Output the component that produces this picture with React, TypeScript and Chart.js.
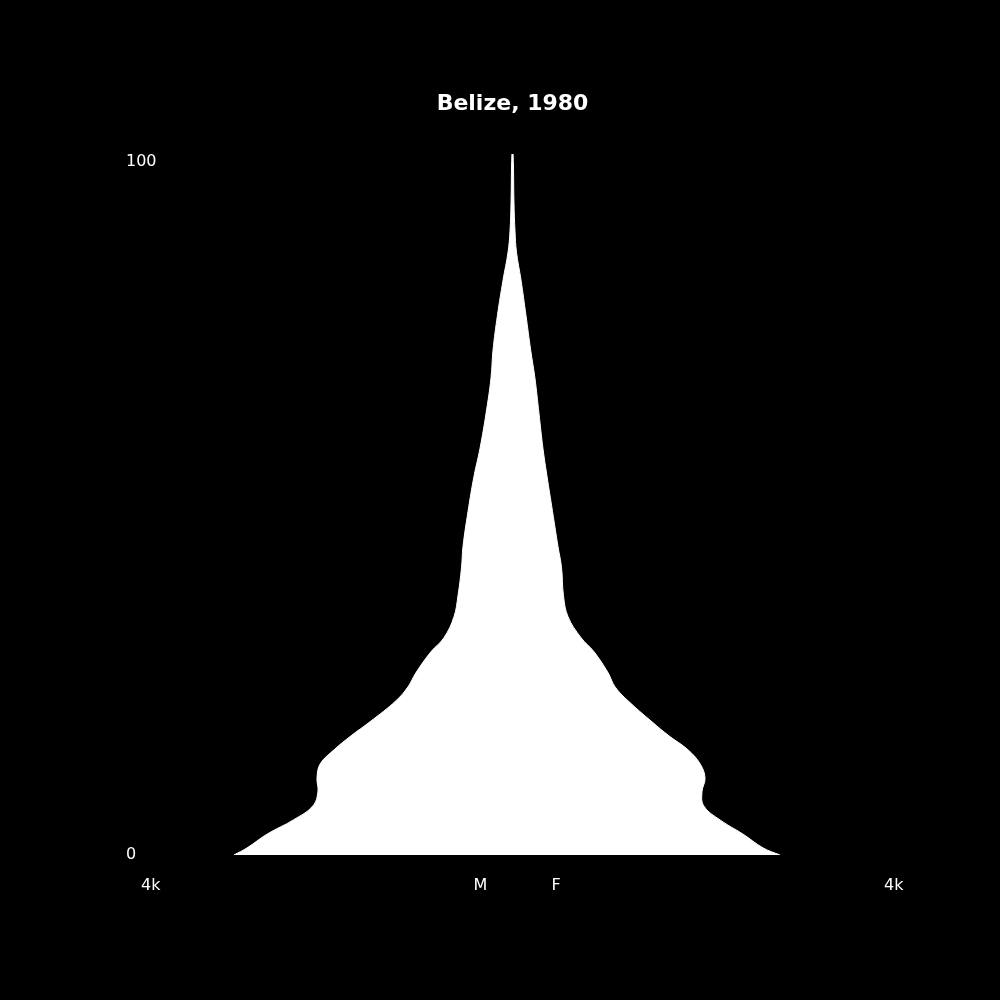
import { useEffect, useRef } from 'react'
import { Chart, registerables } from 'chart.js'
Chart.register(...registerables)

const TITLE = 'Belize, 1980'

// single-year ages, population per age
const AGES   = [0, 1, 3, 5, 7, 9, 11, 13, 15, 17, 19, 22, 24, 26, 29, 31, 34, 37, 41, 44, 49, 54, 58, 63, 68, 72, 77, 82, 86, 89, 93, 100]
const MALE   = [3000, 2860, 2640, 2360, 2150, 2095, 2105, 2070, 1922, 1739, 1535, 1255, 1125, 1040, 878, 738, 630, 587, 549, 533, 479, 415, 350, 285, 232, 210, 162, 102, 48, 27, 16, 6]
const FEMALE = [2880, 2700, 2480, 2235, 2060, 2040, 2073, 2020, 1890, 1685, 1502, 1244, 1104, 1029, 878, 738, 598, 549, 528, 490, 431, 372, 328, 285, 242, 196, 145, 92, 43, 27, 16, 6]

const Y_TICKS  = [100, 0]
const Y_LABELS = ['100', '0']
const X_TICKS  = [-4000, -420, 420, 4000]
const X_LABELS = ['4k', 'M', 'F', '4k']

const labelPlugin = {
  id: 'pyramidLabels',
  afterDraw(chart: Chart) {
    const { ctx, chartArea } = chart
    const x = chart.scales.x
    const y = chart.scales.y
    ctx.save()
    ctx.fillStyle = '#ffffff'
    ctx.font = '16px "DejaVu Sans"'
    ctx.textAlign = 'left'
    ctx.textBaseline = 'alphabetic'
    Y_TICKS.forEach((v, i) => {
      const off = v === 100 ? 12 : 4
      ctx.fillText(Y_LABELS[i], chartArea.left - 15, y.getPixelForValue(v) + off)
    })
    const base = y.getPixelForValue(0) + 35
    X_TICKS.forEach((v, i) => ctx.fillText(X_LABELS[i], x.getPixelForValue(v), base))
    ctx.restore()
  },
}

export default function App() {
  const canvasRef = useRef<HTMLCanvasElement>(null)
  const chartRef  = useRef<Chart | null>(null)

  useEffect(() => {
    if (!canvasRef.current) return
    chartRef.current?.destroy()

    // outline: up the male side, then down the female side
    const outline = [
      ...AGES.map((a, i) => ({ x: -MALE[i], y: a })),
      ...AGES.map((a, i) => ({ x: FEMALE[i], y: a })).reverse(),
    ]

    chartRef.current = new Chart(canvasRef.current, {
      type: 'line',
      data: {
        datasets: [{
          data:            outline,
          fill:            'shape',
          backgroundColor: '#ffffff',
          borderColor:     '#ffffff',
          borderWidth:     1,
          pointRadius:     0,
          tension:         0.4,
        }],
      },
      options: {
        animation:           false,
        responsive:          true,
        maintainAspectRatio: false,
        layout: { padding: { left: 141, right: 116, top: 0, bottom: 145 } },
        plugins: {
          legend:  { display: false },
          tooltip: { enabled: false },
          title: {
            display: true,
            text:    TITLE,
            color:   '#ffffff',
            font:    { family: 'DejaVu Sans', size: 22, weight: 'bold' },
            padding: { top: 91, bottom: 36.6 },
          },
        },
        scales: {
          x: { type: 'linear', min: -4000, max: 4000, display: false },
          y: { type: 'linear', min: 0, max: 100, display: false },
        },
      },
      plugins: [labelPlugin],
    })
    return () => { chartRef.current?.destroy() }
  }, [])

  return (
    <div style={{ position: 'fixed', left: 0, top: 0, width: 1000, height: 1000, background: '#000' }}>
      <canvas ref={canvasRef} style={{ width: '100%', height: '100%' }} />
    </div>
  )
}
